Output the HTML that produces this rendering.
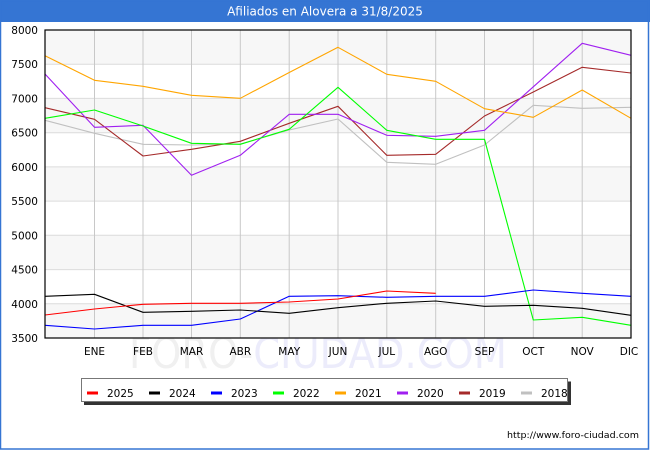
<!DOCTYPE html>
<html><head><meta charset="utf-8"><style>
html,body{margin:0;padding:0;background:#fff;}
svg{display:block;}
text{font-family:"DejaVu Sans","Liberation Sans",sans-serif;}
</style></head><body>
<svg width="650" height="450" viewBox="0 0 650 450" xmlns="http://www.w3.org/2000/svg">
<rect x="0" y="0" width="650" height="450" fill="#fff"/>
<!-- watermark -->
<text x="129" y="368" font-size="43" textLength="378" lengthAdjust="spacingAndGlyphs" fill="#f0f0f0">FORO-<tspan fill="#ececfb">CIUDAD.COM</tspan></text>
<!-- bands -->
<g fill="#f7f7f7">
<rect x="45" y="30" width="586" height="34.2"/>
<rect x="45" y="98.4" width="586" height="34.3"/>
<rect x="45" y="166.9" width="586" height="34.2"/>
<rect x="45" y="235.3" width="586" height="34.3"/>
<rect x="45" y="303.8" width="586" height="34.2"/>
</g>
<!-- horizontal grid -->
<g stroke="#dcdcdc" stroke-width="1">
<line x1="45" x2="631" y1="64.2" y2="64.2"/>
<line x1="45" x2="631" y1="98.4" y2="98.4"/>
<line x1="45" x2="631" y1="132.7" y2="132.7"/>
<line x1="45" x2="631" y1="166.9" y2="166.9"/>
<line x1="45" x2="631" y1="201.1" y2="201.1"/>
<line x1="45" x2="631" y1="235.3" y2="235.3"/>
<line x1="45" x2="631" y1="269.6" y2="269.6"/>
<line x1="45" x2="631" y1="303.8" y2="303.8"/>
</g>
<!-- vertical grid -->
<g stroke="#c8c8c8" stroke-width="1">
<line y1="30" y2="338" x1="94.5" x2="94.5"/>
<line y1="30" y2="338" x1="143" x2="143"/>
<line y1="30" y2="338" x1="191.5" x2="191.5"/>
<line y1="30" y2="338" x1="240.3" x2="240.3"/>
<line y1="30" y2="338" x1="289.2" x2="289.2"/>
<line y1="30" y2="338" x1="338" x2="338"/>
<line y1="30" y2="338" x1="386.8" x2="386.8"/>
<line y1="30" y2="338" x1="435.7" x2="435.7"/>
<line y1="30" y2="338" x1="484.5" x2="484.5"/>
<line y1="30" y2="338" x1="533.3" x2="533.3"/>
<line y1="30" y2="338" x1="582.2" x2="582.2"/>
</g>
<!-- series -->
<g fill="none" stroke-width="1.1" stroke-linejoin="round">
<polyline stroke="#c0c0c0" points="45,120.3 94.5,133.3 143,144.3 191.5,145 240.3,144 289.2,130 338,119 386.8,162.3 435.7,164.3 484.5,145 533.3,105.3 582.2,108.3 631,107.3"/>
<polyline stroke="#a52a2a" points="45,107.7 94.5,119.3 143,156 191.5,149.3 240.3,141.3 289.2,123.3 338,106.3 386.8,155.3 435.7,154.3 484.5,116 533.3,92 582.2,67.3 631,73"/>
<polyline stroke="#a020f0" points="45,74 94.5,127.3 143,125.3 191.5,175.3 240.3,155.3 289.2,114.3 338,114.3 386.8,135.3 435.7,136.3 484.5,130.3 533.3,86.8 582.2,43.3 631,55.3"/>
<polyline stroke="#ffa500" points="45,55.7 94.5,80.3 143,86.3 191.5,95.3 240.3,98.3 289.2,72.5 338,47.3 386.8,74.3 435.7,81.3 484.5,108.7 533.3,117.3 582.2,90 631,118.3"/>
<polyline stroke="#00ff00" points="45,118.3 94.5,110 143,126 191.5,143.3 240.3,144.3 289.2,129.3 338,87.3 386.8,130.3 435.7,139.3 484.5,139.3 533.3,320 582.2,317.3 631,325.3"/>
<polyline stroke="#0000ff" points="45,325.3 94.5,329 143,325.3 191.5,325.3 240.3,319 289.2,296.3 338,295.7 386.8,297.3 435.7,296.3 484.5,296.3 533.3,290 582.2,293.3 631,296.3"/>
<polyline stroke="#000000" points="45,296.3 94.5,294.3 143,312.3 191.5,311.3 240.3,310 289.2,313.3 338,307.7 386.8,303.3 435.7,301 484.5,306.3 533.3,305.3 582.2,308.3 631,315.3"/>
<polyline stroke="#ff0000" points="45,315 94.5,309 143,304.3 191.5,303.3 240.3,303.3 289.2,302 338,299 386.8,291 435.7,293.3"/>
</g>
<!-- frame -->
<rect x="45" y="30" width="586" height="308" fill="none" stroke="#000" stroke-width="1.2"/>
<!-- y labels -->
<g font-size="10.5" fill="#000" text-anchor="end">
<text x="38" y="34">8000</text>
<text x="38" y="68.2">7500</text>
<text x="38" y="102.4">7000</text>
<text x="38" y="136.7">6500</text>
<text x="38" y="170.9">6000</text>
<text x="38" y="205.1">5500</text>
<text x="38" y="239.3">5000</text>
<text x="38" y="273.6">4500</text>
<text x="38" y="307.8">4000</text>
<text x="38" y="342">3500</text>
</g>
<!-- x labels -->
<g font-size="10.5" fill="#000" text-anchor="middle">
<text x="94.5" y="355">ENE</text>
<text x="143" y="355">FEB</text>
<text x="191.5" y="355">MAR</text>
<text x="240.3" y="355">ABR</text>
<text x="289.2" y="355">MAY</text>
<text x="338" y="355">JUN</text>
<text x="386.8" y="355">JUL</text>
<text x="435.7" y="355">AGO</text>
<text x="484.5" y="355">SEP</text>
<text x="533.3" y="355">OCT</text>
<text x="582.2" y="355">NOV</text>
<text x="629" y="355">DIC</text>
</g>
<!-- legend -->
<rect x="84" y="381.5" width="487" height="23.5" fill="#333"/>
<rect x="81.5" y="378.5" width="486" height="23" fill="#fff" stroke="#777" stroke-width="1"/>
<g stroke-width="3">
<line x1="87" x2="98" y1="393" y2="393" stroke="#ff0000"/>
<line x1="149" x2="160" y1="393" y2="393" stroke="#000"/>
<line x1="211" x2="222" y1="393" y2="393" stroke="#0000ff"/>
<line x1="273" x2="284" y1="393" y2="393" stroke="#00ff00"/>
<line x1="335" x2="346" y1="393" y2="393" stroke="#ffa500"/>
<line x1="397" x2="408" y1="393" y2="393" stroke="#a020f0"/>
<line x1="459" x2="470" y1="393" y2="393" stroke="#a52a2a"/>
<line x1="521" x2="532" y1="393" y2="393" stroke="#c0c0c0"/>
</g>
<g font-size="10.5" fill="#000">
<text x="107" y="397">2025</text>
<text x="169" y="397">2024</text>
<text x="231" y="397">2023</text>
<text x="293" y="397">2022</text>
<text x="355" y="397">2021</text>
<text x="417" y="397">2020</text>
<text x="479" y="397">2019</text>
<text x="541" y="397">2018</text>
</g>
<!-- footer -->
<text x="507" y="438" font-size="9" textLength="132" lengthAdjust="spacingAndGlyphs" fill="#000">http://www.foro-ciudad.com</text>
<!-- title bar & border -->
<rect x="0" y="0" width="650" height="22" fill="#3575d3"/>
<text x="325" y="15.5" font-size="12" fill="#fff" text-anchor="middle">Afiliados en Alovera a 31/8/2025</text>
<rect x="0.5" y="0.5" width="648" height="448.5" fill="none" stroke="#3575d3" stroke-width="1.5"/>
</svg>
</body></html>
